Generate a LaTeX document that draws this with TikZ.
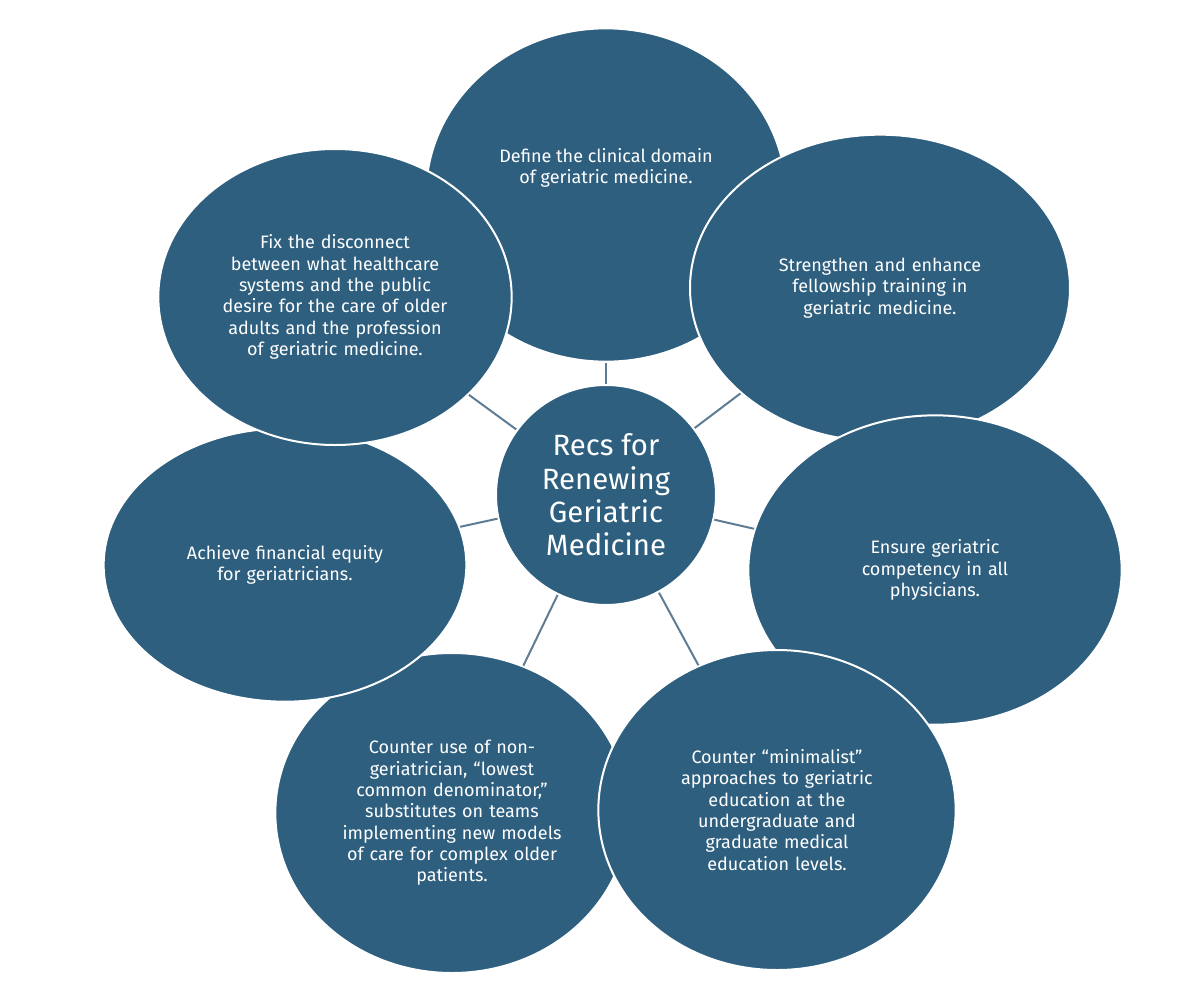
\documentclass[tikz,border=0pt]{standalone}
\usepackage{fontspec}
\setmainfont{Fira Sans}
\usetikzlibrary{shapes.geometric, positioning}

\definecolor{recblue}{HTML}{2E5F7F}
\definecolor{spokegray}{HTML}{5E7C93}

\tikzset{
  recs/.style={ellipse, fill=recblue, draw=white, line width=1.5pt, text=white,
               align=center, font=\fontsize{13.5}{16}\selectfont},
  hub/.style={circle, fill=recblue, draw=white, line width=1.5pt, text=white,
              align=center, minimum size=165pt, font=\fontsize{22}{25}\selectfont},
  spoke/.style={spokegray, line width=1.5pt}
}

\begin{document}
\begin{tikzpicture}[x=0.75pt, y=-0.75pt]
      \useasboundingbox (0,0) rectangle (1200,990);

      \coordinate (c) at (606,495);

      % Outer ellipses
      \node[recs, minimum width=270pt, minimum height=250pt] (define) at (606,195) {};
      \node[text=white, align=center, font=\fontsize{13.5}{16}\selectfont] (definetext) at (606,168)
           {Define the clinical domain\\ of geriatric medicine.};
      \node[recs, minimum width=285pt, minimum height=230pt, text width=160pt] (fellow) at (880,288)
           {Strengthen and enhance\\ fellowship training in\\ geriatric medicine.};
      \node[recs, minimum width=280pt, minimum height=232pt, text width=150pt] (ensure) at (935,570)
           {Ensure geriatric\\ competency in all\\ physicians.};
      \node[recs, minimum width=265pt, minimum height=240pt, text width=170pt] (substitute) at (452,813)
           {Counter use of non-\\ geriatrician, “lowest\\ common denominator,”\\ substitutes on teams\\ implementing new models\\ of care for complex older\\ patients.};
      \node[recs, minimum width=268pt, minimum height=240pt, text width=175pt] (minimal) at (777,810)
           {Counter “minimalist”\\ approaches to geriatric\\ education at the\\ undergraduate and\\ graduate medical\\ education levels.};
      \node[recs, minimum width=272pt, minimum height=205pt, text width=180pt] (finance) at (285,565)
           {Achieve financial equity\\ for geriatricians.};
      \node[recs, minimum width=265pt, minimum height=222pt, text width=180pt] (fix) at (335,297)
           {Fix the disconnect\\ between what healthcare\\ systems and the public\\ desire for the care of older\\ adults and the profession\\ of geriatric medicine.};

      % Spokes between hub and ellipses
      \foreach \n in {define, fellow, ensure, minimal, substitute, finance, fix}
        \draw[spoke] (c) -- (\n);

      % Hub
      \node[hub] (hubnode) at (c) {Recs for\\ Renewing\\ Geriatric\\ Medicine};
\end{tikzpicture}
\end{document}
